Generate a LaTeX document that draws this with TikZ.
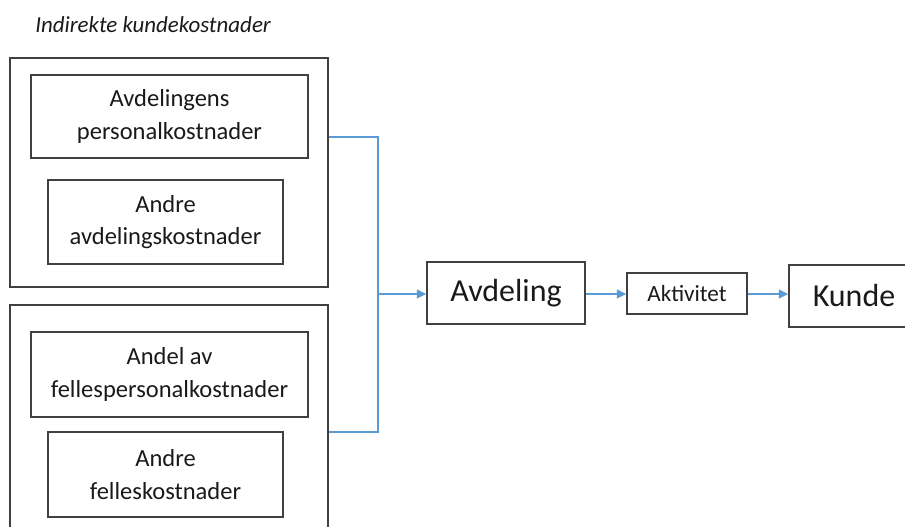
\documentclass[tikz,border=0pt]{standalone}
\usepackage{fontspec}
\setmainfont{Carlito}
\usetikzlibrary{arrows.meta,calc}
\definecolor{edge}{HTML}{404040}
\definecolor{flow}{HTML}{5B9BD5}
\definecolor{ink}{HTML}{1A1A1A}
\tikzset{
  box/.style={draw=edge, line width=1.1pt, fill=white, inner sep=0pt, align=center, text=ink},
  costtext/.style={font=\fontsize{18.4}{24.5}\selectfont},
  bigtext/.style={font=\fontsize{24}{28}\selectfont},
  flowline/.style={draw=flow, line width=1.2pt},
  flowarrow/.style={flowline, -{Triangle[length=7pt,width=6.5pt]}}
}
\begin{document}
\begin{tikzpicture}[x=0.75pt,y=-0.75pt]
\useasboundingbox (0,0) rectangle (905,527);
\clip (0,0) rectangle (905,527);
\fill[white] (0,0) rectangle (905,527);

% heading
\node[anchor=base west, inner sep=0pt, text=ink, font=\fontsize{17.2}{20}\selectfont\itshape] (title) at (35,33) {Indirekte kundekostnader};

% department cost group
\node[box, minimum width=318*0.75pt, minimum height=229*0.75pt] (grpA) at (169,172.5) {};
\node[box, costtext, minimum width=277*0.75pt, minimum height=83*0.75pt] (pers) at (169.5,116.5) {Avdelingens\\personalkostnader};
\node[box, costtext, minimum width=235*0.75pt, minimum height=84*0.75pt] (andreA) at (165.5,222) {Andre\\avdelingskostnader};

% shared cost group
\node[box, minimum width=318*0.75pt, minimum height=240*0.75pt] (grpB) at (169,425) {};
\node[box, costtext, minimum width=277*0.75pt, minimum height=85*0.75pt] (felles) at (169.5,374.5) {Andel av\\fellespersonalkostnader};
\node[box, costtext, minimum width=235*0.75pt, minimum height=85*0.75pt] (andreB) at (165.5,474.5) {Andre\\felleskostnader};

% allocation chain
\node[box, bigtext, minimum width=158*0.75pt, minimum height=62*0.75pt] (avd) at (506,293) {Avdeling};
\node[box, font=\fontsize{17.4}{20}\selectfont, minimum width=120*0.75pt, minimum height=41*0.75pt] (akt) at (687,293.5) {Aktivitet};
\node[box, bigtext, minimum width=130*0.75pt, minimum height=62*0.75pt] (kunde) at (854,296) {Kunde};

% collecting connector
\coordinate (join) at (378,294);
\coordinate (outA) at ($(grpA.north east)!0.345!(grpA.south east)$);
\coordinate (outB) at ($(grpB.north east)!0.529!(grpB.south east)$);
\draw[flowline] (outA) -| (join);
\draw[flowline] (outB) -| (join);
\draw[flowarrow] (join) -- (avd.west |- join);
\draw[flowarrow] (avd.east |- join) -- (akt.west |- join);
\draw[flowarrow] (akt.east |- join) -- (kunde.west |- join);
\end{tikzpicture}
\end{document}
